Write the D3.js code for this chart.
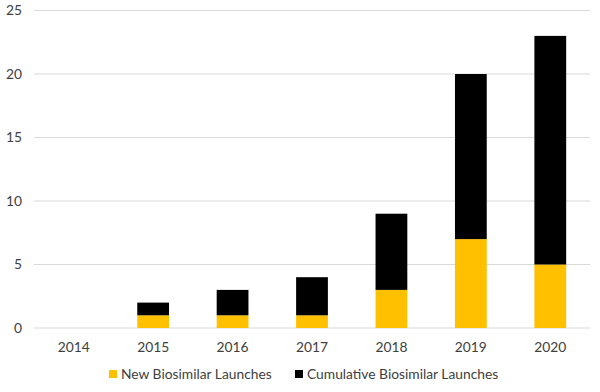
<!DOCTYPE html>
<html><head><meta charset="utf-8">
<script src="https://cdn.jsdelivr.net/npm/d3@7"></script>
<style>body{margin:0;background:#fff}svg{display:block}text{font-family:Lato,"Open Sans",sans-serif;fill:#404040}</style>
</head><body><svg width="600" height="392"></svg>
<script>
const years = ["2014","2015","2016","2017","2018","2019","2020"];
const newLaunches = [0,1,1,1,3,7,5];
const cumulativeLaunches = [0,1,2,3,6,13,18];
const yTicks = [0,5,10,15,20,25];
const seriesNames = ["New Biosimilar Launches","Cumulative Biosimilar Launches"];
const colors = ["#FFC000","#000000"];

const svg = d3.select("svg");
const x = d3.scaleBand().domain(years).range([34,590]).padding(0);
const y = d3.scaleLinear().domain([0,25]).range([328,10.5]);

svg.append("g").selectAll("line").data(yTicks).join("line")
  .attr("x1",34).attr("x2",590).attr("y1",d=>y(d)).attr("y2",d=>y(d))
  .attr("stroke","#d9d9d9").attr("stroke-width",1);
svg.append("g").selectAll("text").data(yTicks).join("text")
  .attr("x",22).attr("y",d=>y(d)).attr("dy","0.35em").attr("text-anchor","end")
  .attr("font-size",13.8).text(d=>d);

const rows = years.map((yr,i)=>({year:yr,n:newLaunches[i],c:cumulativeLaunches[i]}));
const stack = d3.stack().keys(["n","c"])(rows);
const bw = x.bandwidth()*0.4;
svg.append("g").selectAll("g").data(stack).join("g").attr("fill",(d,i)=>colors[i])
  .selectAll("rect").data(d=>d).join("rect")
  .attr("x",d=>x(d.data.year)+x.bandwidth()/2-bw/2).attr("width",bw)
  .attr("y",d=>y(d[1])).attr("height",d=>y(d[0])-y(d[1]));

svg.append("g").selectAll("text").data(years).join("text")
  .attr("x",d=>x(d)+x.bandwidth()/2).attr("y",347).attr("dy","0.35em")
  .attr("text-anchor","middle").attr("font-size",13.8).text(d=>d);

const leg = svg.append("g");
const legX = [109,295];
seriesNames.forEach((s,i)=>{
  leg.append("rect").attr("x",legX[i]).attr("y",370).attr("width",8).attr("height",8).attr("fill",colors[i]);
  leg.append("text").attr("x",legX[i]+12).attr("y",374).attr("dy","0.35em").attr("font-size",13.8).text(s);
});
</script></body></html>
